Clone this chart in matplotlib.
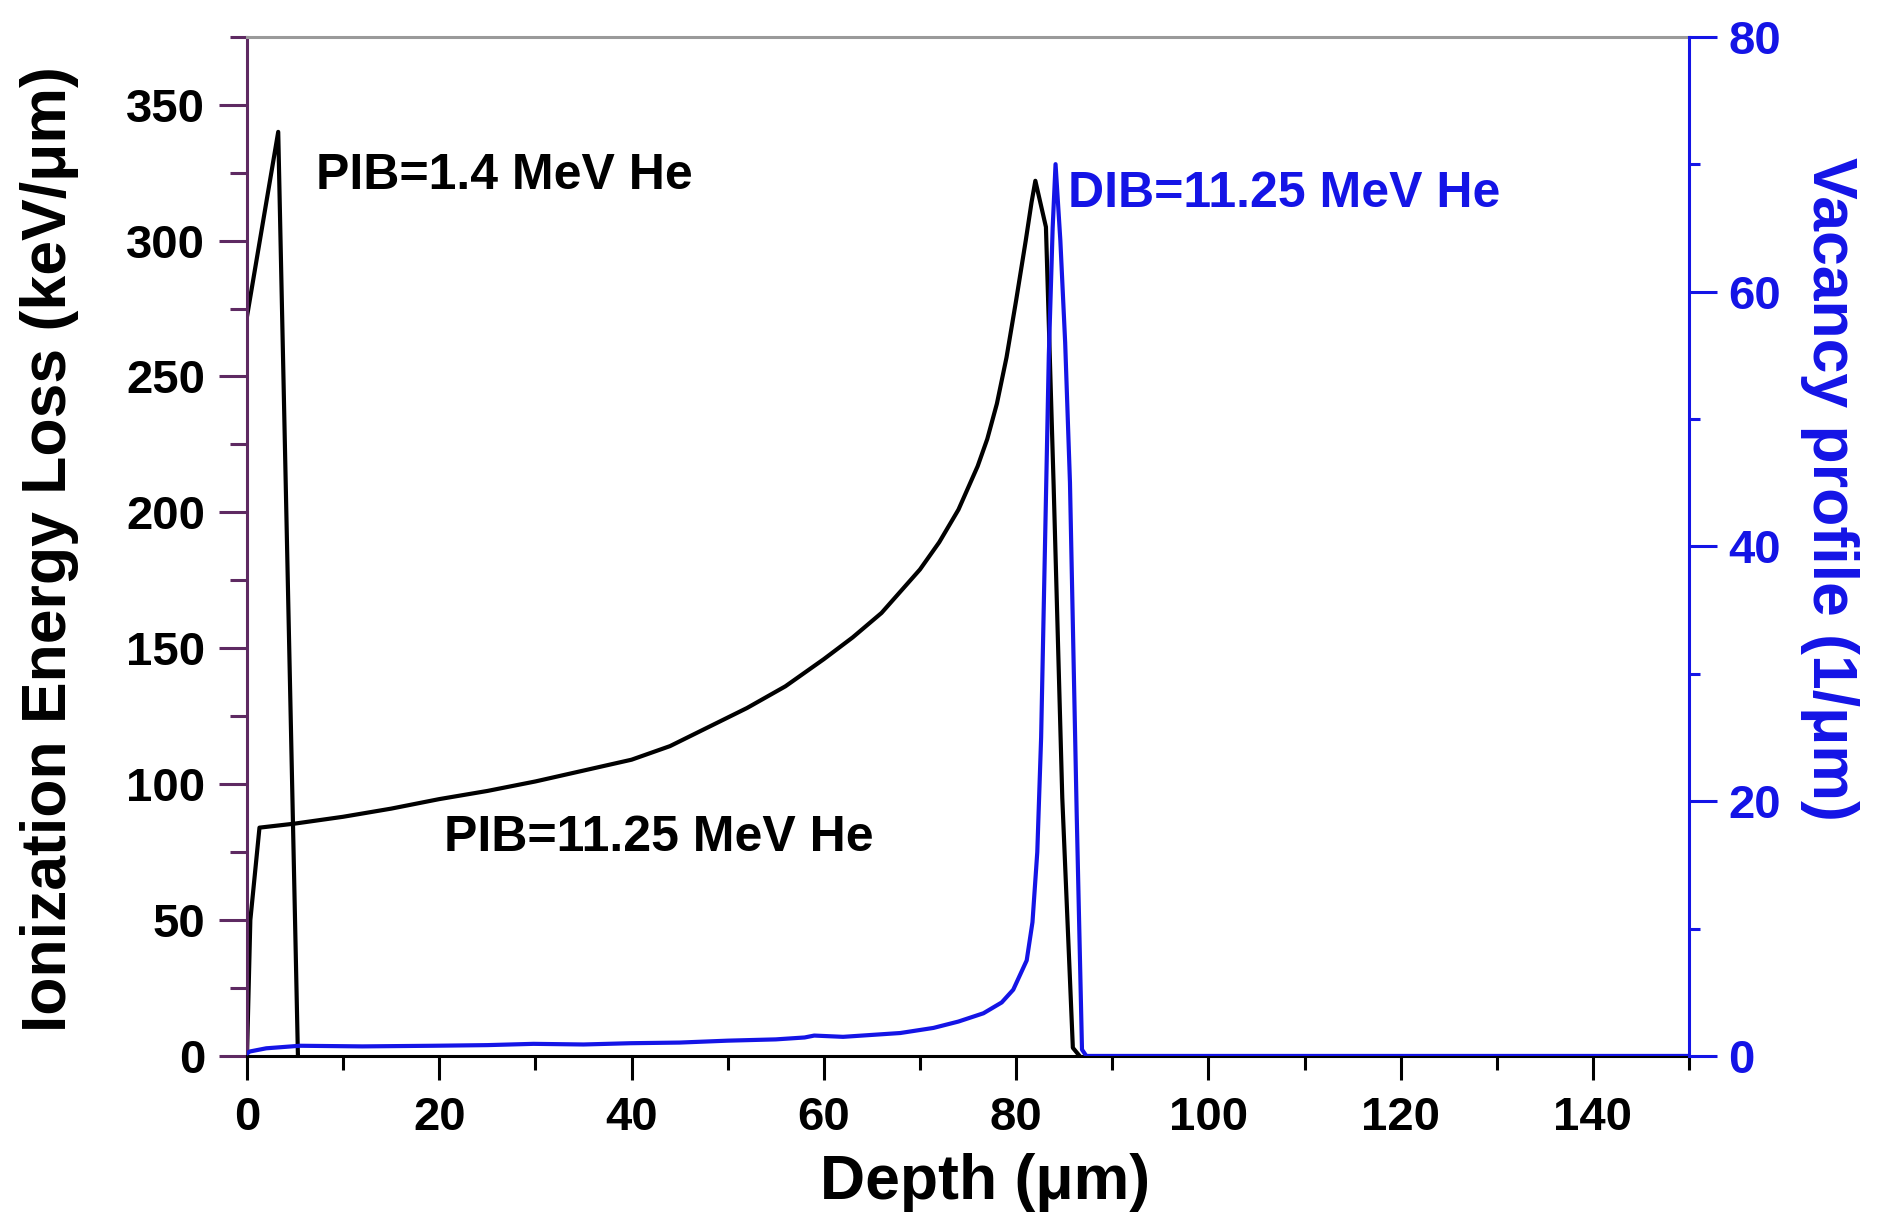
import numpy as np
import matplotlib.pyplot as plt
from matplotlib.ticker import MultipleLocator

plt.rcParams['font.family'] = ['Liberation Sans', 'DejaVu Sans']
plt.rcParams['font.weight'] = 'bold'

# PIB = 1.4 MeV He (ionization energy loss, keV/um)
depth_14 = [0, 3.25, 5.3]
ion_14 = [272, 340, 0]

# PIB = 11.25 MeV He (ionization energy loss, keV/um)
depth_1125 = [0, 0.35, 1.3, 5, 10, 15, 20, 25, 30, 35, 40, 44, 48, 52, 56, 60,
              63, 66, 68, 70, 72, 74, 76, 77, 78, 79, 80, 81, 81.6, 82.0,
              83.1, 83.9, 84.8, 85.9, 86.6]
ion_1125 = [0, 50, 84, 85.5, 88, 91, 94.5, 97.5, 101, 105, 109, 114, 121, 128,
            136, 146, 154, 163, 171, 179, 189, 201, 217, 227, 240, 257, 278,
            300, 314, 322, 305, 210, 95, 3, 0]

# DIB = 11.25 MeV He (vacancy profile, 1/um)
depth_vac = [0, 0.3, 2, 5.5, 12, 19.4, 25, 29.8, 35, 39.9, 45, 50, 55, 58, 59,
             62, 67.95, 71.4, 74, 76.6, 78.5, 79.7, 81.1, 81.7, 82.2, 82.6, 83.0,
             83.4, 83.8, 84.1, 84.6, 85.1, 85.6, 86.3, 86.85, 87.3, 100, 150]
vac = [0.2, 0.35, 0.6, 0.8, 0.75, 0.8, 0.85, 0.95, 0.9, 1.0, 1.05, 1.2, 1.3, 1.45,
       1.6, 1.5, 1.8, 2.2, 2.7, 3.35, 4.2, 5.2, 7.5, 10.5, 16, 25, 40,
       55, 65, 70, 64, 56, 45, 19, 0.5, 0, 0, 0]

purple = '#5e2a62'
blue = '#1414e6'

fig = plt.figure(figsize=(18.81, 12.25), dpi=100)
ax = fig.add_axes([0.1313, 0.138, 0.7667, 0.832])
ax2 = ax.twinx()

ax.plot(depth_14, ion_14, color='black', lw=3)
ax.plot(depth_1125, ion_1125, color='black', lw=3)
ax2.plot(depth_vac, vac, color=blue, lw=3)

ax.set_xlim(0, 150)
ax.set_ylim(0, 375)
ax2.set_ylim(0, 80)

ax.xaxis.set_major_locator(MultipleLocator(20))
ax.xaxis.set_minor_locator(MultipleLocator(10))
ax.yaxis.set_major_locator(MultipleLocator(50))
ax.yaxis.set_minor_locator(MultipleLocator(25))
ax2.yaxis.set_major_locator(MultipleLocator(20))
ax2.yaxis.set_minor_locator(MultipleLocator(10))

ax.tick_params(axis='x', which='major', direction='out', length=17, width=2.2,
               labelsize=34, pad=12, colors='black')
ax.tick_params(axis='x', which='minor', direction='out', length=10, width=2.2)
ax.tick_params(axis='y', which='major', direction='out', length=20, width=2.2,
               labelsize=34, pad=10, color=purple, labelcolor='black')
ax.tick_params(axis='y', which='minor', direction='out', length=12, width=2.2,
               color=purple)
ax2.tick_params(axis='y', which='major', direction='out', length=20, width=2.2,
                labelsize=34, pad=8, colors=blue)
ax2.tick_params(axis='y', which='minor', direction='out', length=8, width=2.2,
                color=blue)

for sp in ['top', 'right', 'bottom', 'left']:
    ax.spines[sp].set_linewidth(2.2)
    ax2.spines[sp].set_linewidth(2.2)
ax.spines['left'].set_color(purple)
ax.spines['top'].set_color('#9a9a9a')
ax.spines['bottom'].set_color('black')
ax.spines['right'].set_visible(False)
ax2.spines['top'].set_visible(False)
ax2.spines['left'].set_visible(False)
ax2.spines['bottom'].set_visible(False)
ax2.spines['right'].set_color(blue)

ax.set_xlabel('Depth (\u03bcm)', fontsize=45, fontweight='bold')
ax.set_ylabel('Ionization Energy Loss (keV/\u03bcm)', fontsize=45, fontweight='bold')
ax2.set_ylabel('Vacancy profile (1/\u03bcm)', fontsize=45, fontweight='bold',
               color=blue, rotation=270)
ax.xaxis.label.set_va('center')
ax.yaxis.label.set_va('center')
ax2.yaxis.label.set_va('center')
ax.xaxis.set_label_coords(0.5116, -0.1237)
ax.yaxis.set_label_coords(-0.1366, 0.497)
ax2.yaxis.set_label_coords(1.0973, 0.556)

ax.text(7.2, 323.8, 'PIB=1.4 MeV He', fontsize=36, fontweight='bold',
        va='center', ha='left')
ax.text(20.5, 80.2, 'PIB=11.25 MeV He', fontsize=36, fontweight='bold',
        va='center', ha='left')
ax.text(85.4, 317, 'DIB=11.25 MeV He', fontsize=36, fontweight='bold',
        va='center', ha='left', color=blue, zorder=5)

fig.savefig('out.png', dpi=100)
